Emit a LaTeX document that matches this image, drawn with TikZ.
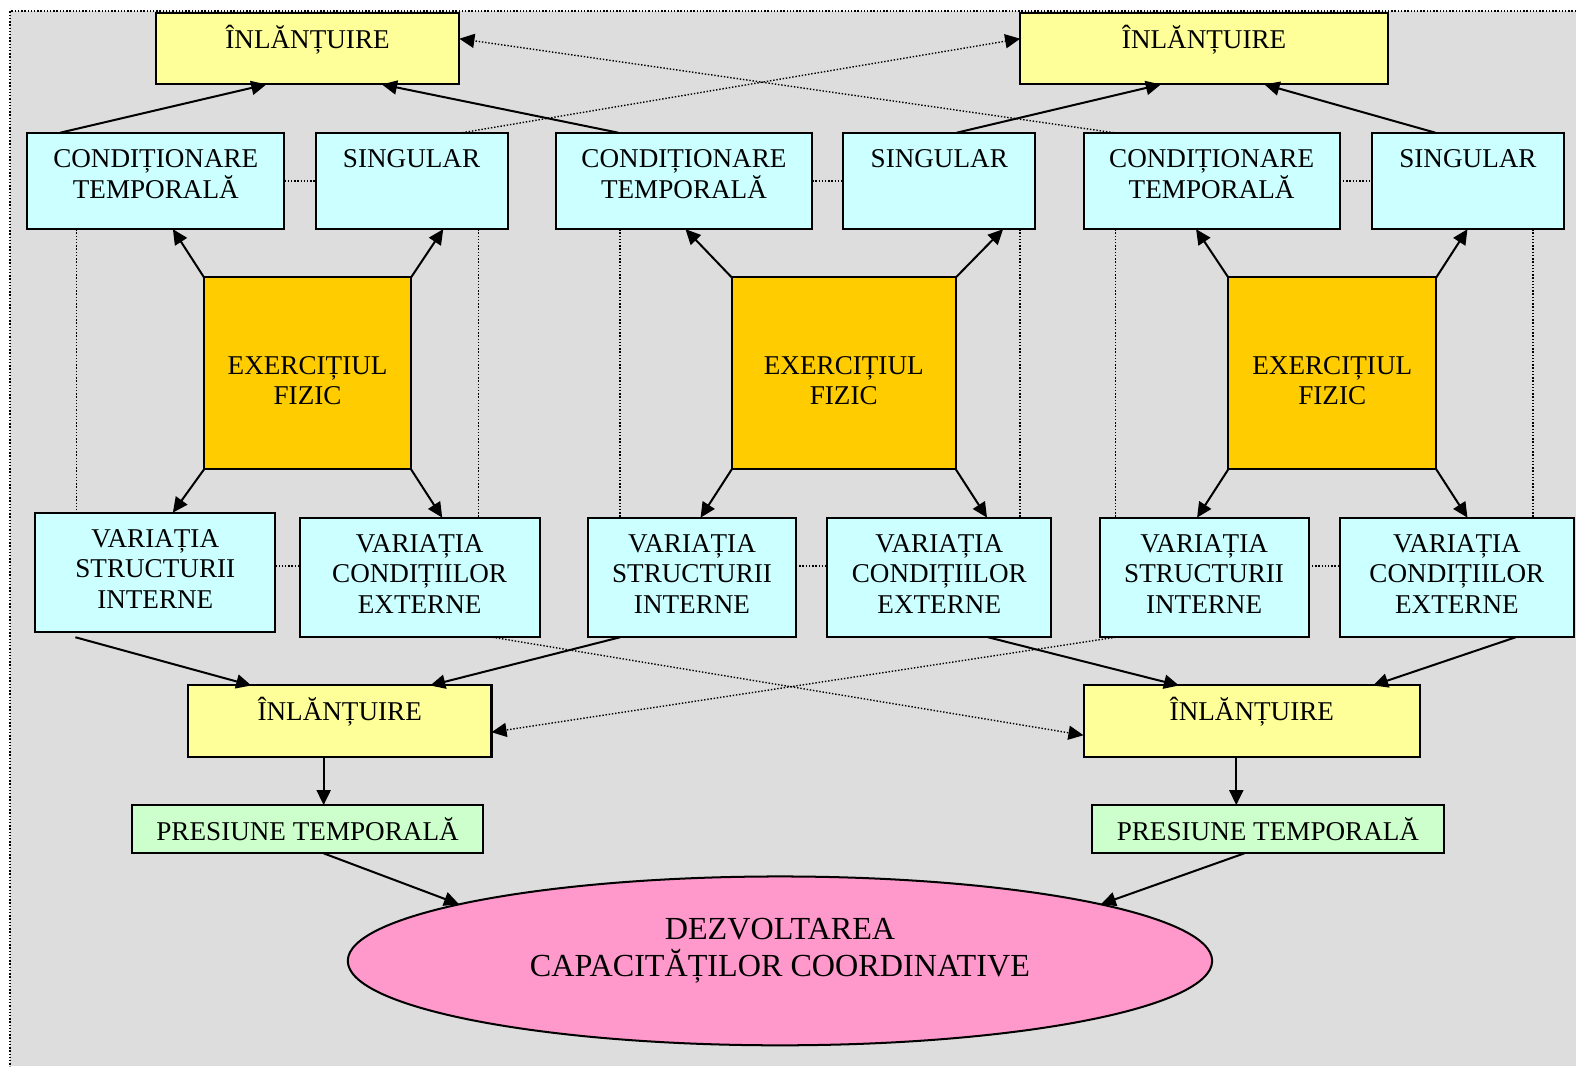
\documentclass[tikz,border=0pt]{standalone}
\usepackage{fontspec}
\setmainfont{Liberation Serif}
\usetikzlibrary{arrows.meta,shapes.geometric}

\definecolor{yel}{HTML}{FFFF99}
\definecolor{cyn}{HTML}{CCFFFF}
\definecolor{org}{HTML}{FFCC00}
\definecolor{grn}{HTML}{CCFFCC}
\definecolor{pnk}{HTML}{FF99CC}
\definecolor{bgc}{HTML}{DDDDDD}

\newcommand{\boxfont}{\fontsize{27}{30}\selectfont}
\newcommand{\goalfont}{\fontsize{32}{36}\selectfont}

\tikzstyle{box}=[draw=black,line width=2pt,inner sep=0pt,outer sep=0pt]
\tikzstyle{chain}=[box,fill=yel,minimum height=71]
\tikzstyle{cond}=[box,fill=cyn,minimum height=96]
\tikzstyle{var}=[box,fill=cyn,minimum height=119]
\tikzstyle{exer}=[box,fill=org,minimum height=191]
\tikzstyle{press}=[box,fill=grn,minimum height=48]
\tikzstyle{goal}=[box,ellipse,fill=pnk,minimum width=860,minimum height=168]
\tikzstyle{txt}=[anchor=base,inner sep=0pt,align=center,font=\boxfont]
\tikzstyle{oneline}=[txt,yshift=-35pt]
\tikzstyle{twolines}=[txt,yshift=-65pt]
\tikzstyle{threelines}=[txt,yshift=-95pt]
\tikzstyle{arr}=[line width=2pt,-{Triangle[length=15pt,width=14pt]}]
\tikzstyle{dot}=[line width=1.4pt,dash pattern=on 1.4pt off 1.8pt]
\tikzstyle{darr}=[dot,-{Triangle[length=15pt,width=14pt]}]

\begin{document}
\begin{tikzpicture}[x=1pt,y=-1pt]
	\useasboundingbox (0,0) rectangle (1568,1061);
	\fill[bgc] (10,11) rectangle (1568,1061);
	\draw[dot] (1568,11) -- (10,11) -- (10,1061);

	% top and bottom chains
	\node (t1) at (306,48.5) [chain,minimum width=302,label={[oneline]north:ÎNLĂNȚUIRE}] {};
	\node (t2) at (1198,48.5) [chain,minimum width=366,label={[oneline]north:ÎNLĂNȚUIRE}] {};
	\node (b1) at (338,717.5) [chain,minimum width=302,label={[oneline]north:ÎNLĂNȚUIRE}] {};
	\node (b2) at (1245.5,717.5) [chain,minimum width=335,label={[oneline]north:ÎNLĂNȚUIRE}] {};

	% the three exercise groups
	\foreach \n/\cx/\cw/\sx/\ox/\ow/\ix/\iy/\iw/\kx/\kw in {
		1/155/256/409.5/306/206/154.5/569.5/239/417.5/239,
		2/680.5/255/934.5/839.5/223/688.5/574.5/207/934.5/223,
		3/1205.5/255/1460.5/1325.5/207/1198/574.5/208/1449.5/233}
	{
		\node (c\n) at (\cx,180) [cond,minimum width=\cw,label={[twolines]north:CONDIȚIONARE\\TEMPORALĂ}] {};
		\node (s\n) at (\sx,180) [cond,minimum width=191,label={[oneline]north:SINGULAR}] {};
		\node (o\n) at (\ox,371.5) [exer,minimum width=\ow,label={[txt,yshift=-7.5pt]center:EXERCIȚIUL\\FIZIC}] {};
		\node (v\n) at (\ix,\iy) [var,minimum width=\iw,label={[threelines]north:VARIAȚIA\\STRUCTURII\\INTERNE}] {};
		\node (e\n) at (\kx,574.5) [var,minimum width=\kw,label={[threelines]north:VARIAȚIA\\CONDIȚIILOR\\EXTERNE}] {};
		\draw[dot] (c\n) -- (s\n);
		\draw[dot] (v\n.east |- 0,563) -- (e\n.west |- 0,563);
	}

	% dotted verticals
	\draw[dot] ([xshift=49]c1.south west) -- ([xshift=41]v1.north west);
	\draw[dot] ([xshift=162]s1.south west) -- ([xshift=178]e1.north west);
	\draw[dot] ([xshift=64]c2.south west) -- ([xshift=32]v2.north west);
	\draw[dot] ([xshift=176]s2.south west) -- ([xshift=192]e2.north west);
	\draw[dot] ([xshift=32]c3.south west) -- ([xshift=16]v3.north west);
	\draw[dot] ([xshift=160]s3.south west) -- ([xshift=192]e3.north west);

	% exercise to its four sides
	\draw[arr] (o1.north west) -- ([xshift=145]c1.south west);
	\draw[arr] (o1.north east) -- ([xshift=127]s1.south west);
	\draw[arr] (o1.south west) -- ([xshift=137]v1.north west);
	\draw[arr] (o1.south east) -- ([xshift=142]e1.north west);
	\draw[arr] (o2.north west) -- ([xshift=129]c2.south west);
	\draw[arr] (o2.north east) -- ([xshift=159]s2.south west);
	\draw[arr] (o2.south west) -- ([xshift=112]v2.north west);
	\draw[arr] (o2.south east) -- ([xshift=159]e2.north west);
	\draw[arr] (o3.north west) -- ([xshift=112]c3.south west);
	\draw[arr] (o3.north east) -- ([xshift=95]s3.south west);
	\draw[arr] (o3.south west) -- ([xshift=97]v3.north west);
	\draw[arr] (o3.south east) -- ([xshift=127]e3.north west);

	% up to the top chains
	\draw[arr] ([xshift=33]c1.north west) -- ([xshift=110]t1.south west);
	\draw[arr] ([xshift=62]c2.north west) -- ([xshift=225]t1.south west);
	\draw[arr] ([xshift=113]s2.north west) -- ([xshift=140]t2.south west);
	\draw[arr] ([xshift=63]s3.north west) -- ([xshift=243]t2.south west);
	\draw[darr] ([xshift=30]c3.north west) -- ([yshift=10]t1.east);
	\draw[darr] ([xshift=146]s1.north west) -- ([yshift=10]t2.west);

	% down to the bottom chains
	\draw[arr] ([xshift=40,yshift=-5]v1.south west) -- ([xshift=63]b1.north west);
	\draw[arr] ([xshift=32]v2.south west) -- ([xshift=241]b1.north west);
	\draw[arr] ([xshift=160]e2.south west) -- ([xshift=95]b2.north west);
	\draw[arr] ([xshift=175]e3.south west) -- ([xshift=288]b2.north west);
	\draw[darr] ([xshift=192]e1.south west) -- ([yshift=-14]b2.west);
	\draw[darr] ([xshift=16]v3.south west) -- ([yshift=-11]b1.east);

	% time pressure and goal
	\node (p1) at (306,825) [press,minimum width=350,label={[oneline]north:PRESIUNE TEMPORALĂ}] {};
	\node (p2) at (1261.5,825) [press,minimum width=351,label={[oneline]north:PRESIUNE TEMPORALĂ}] {};
	\node (d) at (776,956) [goal,label={[txt,font=\goalfont,yshift=10pt]center:DEZVOLTAREA\\CAPACITĂȚILOR COORDINATIVE}] {};
	\draw[arr] ([xshift=-16]b1.south) -- ([xshift=16]p1.north);
	\draw[arr] ([xshift=-15.5]b2.south) -- ([xshift=-31.5]p2.north);
	\draw[arr] ([xshift=16]p1.south) -- (d.170);
	\draw[arr] ([xshift=-23.5]p2.south) -- (d.10);
\end{tikzpicture}
\end{document}
